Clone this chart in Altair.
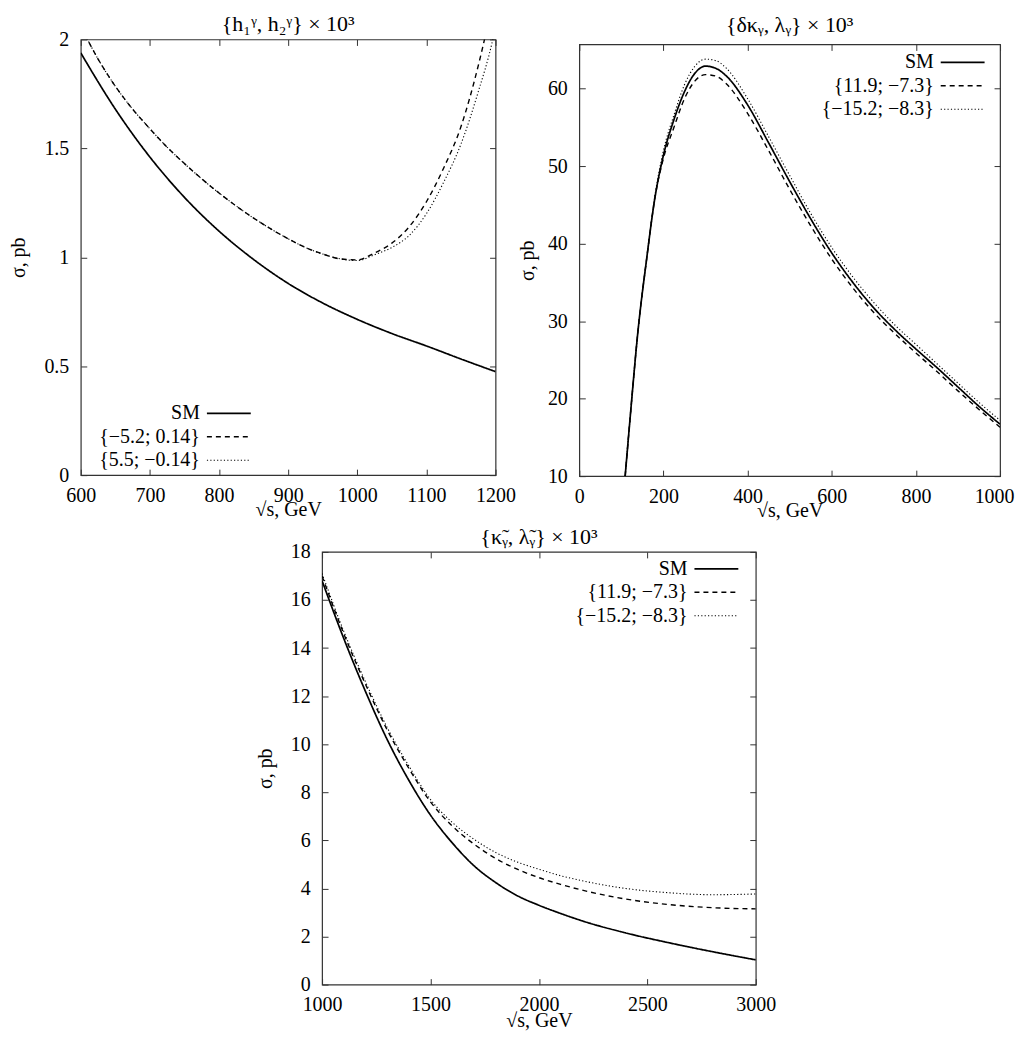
import altair as alt
import pandas as pd

FONT = "Liberation Serif"

# ---------------- Panel 1: {h1, h2} x 10^3 ----------------
p1_names = ["SM", "{−5.2; 0.14}", "{5.5; −0.14}"]
p1_sm_x = [600, 650, 700, 750, 800, 850, 900, 950, 1000, 1050, 1100, 1150, 1200]
p1_sm_y = [1.938, 1.68, 1.46, 1.275, 1.12, 0.99, 0.88, 0.79, 0.715, 0.65, 0.593, 0.533, 0.475]
p1_dash_x = [600, 625, 650, 675, 700, 725, 750, 775, 800, 825, 850, 875, 900, 925, 950, 975,
             1000, 1025, 1050, 1075, 1100, 1125, 1150, 1175, 1184, 1200]
p1_dash_y = [2.06, 1.91, 1.785, 1.68, 1.59, 1.505, 1.43, 1.36, 1.295, 1.235, 1.18, 1.13, 1.085,
             1.045, 1.015, 0.993, 0.988, 1.02, 1.065, 1.14, 1.255, 1.41, 1.60, 1.88, 2.0, 2.25]
p1_dot_x = [600, 625, 650, 675, 700, 725, 750, 775, 800, 825, 850, 875, 900, 925, 950, 975,
            1000, 1025, 1050, 1075, 1100, 1125, 1150, 1175, 1196, 1200]
p1_dot_y = [2.06, 1.91, 1.785, 1.68, 1.59, 1.505, 1.43, 1.36, 1.295, 1.235, 1.18, 1.13, 1.085,
            1.045, 1.015, 0.993, 0.985, 1.012, 1.045, 1.10, 1.20, 1.345, 1.52, 1.76, 2.0, 2.06]

# ---------------- Panel 2: {dk, lambda} x 10^3 ----------------
p2_names = ["SM", "{11.9; −7.3}", "{−15.2; −8.3}"]
p2_x = [109, 120, 140, 160, 180, 200, 225, 250, 275, 300, 325, 350, 400, 450, 500, 550,
        600, 650, 700, 750, 800, 850, 900, 950, 1000]
p2_sm_y = [10, 17, 29, 38, 46, 51.4, 56.0, 59.6, 62.0, 62.9, 62.6, 61.6, 57.9, 53.0, 48.0,
           43.2, 38.8, 35.0, 31.7, 28.9, 26.4, 24.0, 21.5, 19.0, 16.7]
p2_dash_y = [10, 17, 29, 38, 46, 51.0, 55.0, 58.7, 61.0, 61.8, 61.6, 60.6, 56.8, 52.0, 47.0,
             42.3, 38.0, 34.3, 31.1, 28.4, 25.9, 23.5, 21.0, 18.6, 16.3]
p2_dot_y = [10, 17, 29, 38, 46.3, 52.0, 56.6, 60.5, 62.9, 63.8, 63.6, 62.6, 58.7, 53.8, 48.8,
            43.9, 39.5, 35.7, 32.4, 29.5, 27.0, 24.5, 22.0, 19.5, 17.2]

# ---------------- Panel 3: {k~, lambda~} x 10^3 ----------------
p3_names = ["SM", "{11.9; −7.3}", "{−15.2; −8.3}"]
p3_x = [1000, 1100, 1200, 1300, 1400, 1500, 1600, 1700, 1800, 1900, 2000, 2100, 2200, 2400,
        2600, 2800, 3000]
p3_sm_y = [16.8, 14.4, 12.2, 10.2, 8.5, 7.05, 5.9, 4.95, 4.25, 3.7, 3.3, 2.96, 2.65, 2.15,
           1.74, 1.37, 1.03]
p3_dash_y = [17.0, 14.6, 12.5, 10.6, 9.0, 7.6, 6.6, 5.85, 5.25, 4.8, 4.45, 4.17, 3.93, 3.56,
             3.33, 3.2, 3.15]
p3_dot_y = [17.1, 14.7, 12.6, 10.7, 9.1, 7.7, 6.75, 6.05, 5.5, 5.1, 4.8, 4.53, 4.32, 4.0,
            3.82, 3.74, 3.77]


def long_df(series):
    rows = []
    for name, xs, ys in series:
        for i, (xv, yv) in enumerate(zip(xs, ys)):
            rows.append({"x": xv, "y": yv, "series": name, "i": i})
    return pd.DataFrame(rows)


df1 = long_df([(p1_names[0], p1_sm_x, p1_sm_y), (p1_names[1], p1_dash_x, p1_dash_y),
               (p1_names[2], p1_dot_x, p1_dot_y)])
df2 = long_df([(p2_names[0], p2_x, p2_sm_y), (p2_names[1], p2_x, p2_dash_y),
               (p2_names[2], p2_x, p2_dot_y)])
df3 = long_df([(p3_names[0], p3_x, p3_sm_y), (p3_names[1], p3_x, p3_dash_y),
               (p3_names[2], p3_x, p3_dot_y)])

DASHES = [[1, 0], [5, 4], [1.2, 2.2]]
WIDTHS = [1.7, 1.1, 1.1]
TICK = 6
IND = dict(strokeDash="independent", strokeWidth="independent")


def panel(df, names, xdom, ydom, xticks, yticks, title, w, h, lx, ly,
          xfmt, yfmt, title_offset, xtitle_pad, ytitle_pad, last_right=None):
    xs = alt.Scale(domain=xdom, nice=False, zero=False)
    ys = alt.Scale(domain=ydom, nice=False, zero=False)
    leg = alt.Legend(orient="none", legendX=lx, legendY=ly, title=None,
                     symbolType="M-4,0H4", symbolSize=121, labelAlign="right",
                     labelOffset=alt.ExprRef(expr="-39"), labelFont=FONT, labelFontSize=20,
                     labelColor="black", rowPadding=3.5, padding=0,
                     symbolStrokeColor="black", symbolFillColor="transparent")
    xaxis_kw = dict(values=xticks, format=xfmt, title="√s, GeV", orient="bottom",
                    offset=-TICK, tickSize=TICK, domain=False, grid=False,
                    labelPadding=10, titlePadding=xtitle_pad, labelFlush=False)
    if last_right is not None:
        test = "datum.value == %d" % xdom[1]
        xaxis_kw["labelAlign"] = {"condition": {"test": test, "value": "right"}, "value": "center"}
        xaxis_kw["labelOffset"] = {"condition": {"test": test, "value": last_right}, "value": 0}
    lines = alt.Chart(df).mark_line(clip=True, color="black", interpolate="monotone").encode(
        x=alt.X("x:Q", scale=xs, axis=alt.Axis(**xaxis_kw)),
        y=alt.Y("y:Q", scale=ys, axis=alt.Axis(
            values=yticks, format=yfmt, title="σ, pb", orient="left",
            offset=-TICK, tickSize=TICK, domain=False, grid=False,
            labelPadding=12, titlePadding=ytitle_pad)),
        strokeDash=alt.StrokeDash("series:N", scale=alt.Scale(domain=names, range=DASHES),
                                  legend=leg),
        strokeWidth=alt.StrokeWidth("series:N", scale=alt.Scale(domain=names, range=WIDTHS),
                                    legend=leg),
        order="i:Q",
        detail="series:N",
    )
    mirror = alt.Chart(df).mark_line(opacity=0, clip=True).encode(
        x=alt.X("x:Q", scale=xs, axis=alt.Axis(
            values=xticks, orient="top", labels=False, title=None,
            offset=-TICK, tickSize=TICK, domain=False, grid=False)),
        y=alt.Y("y:Q", scale=ys, axis=alt.Axis(
            values=yticks, orient="right", labels=False, title=None,
            offset=-TICK, tickSize=TICK, domain=False, grid=False)),
    )
    return alt.layer(lines, mirror).resolve_axis(x="independent", y="independent").properties(
        width=w, height=h,
        title=alt.TitleParams(title, font=FONT, fontSize=22, fontWeight="normal",
                              color="black", offset=alt.ExprRef(expr=str(title_offset)),
                              anchor="middle", frame="group"),
        view=alt.ViewBackground(stroke="#333", strokeWidth=1.2),
    )


def spacer(w, h):
    return alt.Chart(alt.Data(values=[{"a": 0}])).mark_point(opacity=0).encode(
        x=alt.value(w / 2), y=alt.value(h / 2), size=alt.value(1)
    ).properties(width=w, height=h,
                 view=alt.ViewBackground(stroke="transparent", strokeWidth=0))


def with_top_gap(ch, gap):
    return alt.vconcat(spacer(1, gap), ch, spacing=0).resolve_scale(**IND).resolve_legend(**IND)


p1 = panel(df1, p1_names, [600, 1200], [0, 2], [600, 700, 800, 900, 1000, 1100, 1200],
           [0, 0.5, 1, 1.5, 2], "{h₁ᵞ, h₂ᵞ} × 10³", 416, 437, 138.5, 365, "d", "~g",
           -7, -6, 15)
p2 = panel(df2, p2_names, [0, 1000], [10, 65.7], [0, 200, 400, 600, 800, 1000],
           [10, 20, 30, 40, 50, 60], "{δκᵧ, λᵧ} × 10³", 422, 433, 374.5, 8, "d", "d",
           7, -6, 10, last_right=14)
p3 = panel(df3, p3_names, [1000, 3000], [0, 18], [1000, 1500, 2000, 2500, 3000],
           [0, 2, 4, 6, 8, 10, 12, 14, 16, 18], "{κ̃ᵧ, λ̃ᵧ} × 10³", 435, 434, 385.5, 7,
           "d", "d", -7, -4, 15)

top = alt.hconcat(with_top_gap(p1, 3), with_top_gap(p2, 3), spacing=0).resolve_scale(
    **IND).resolve_legend(**IND)
bottom = alt.hconcat(spacer(174, 1), p3, spacing=0).resolve_scale(**IND).resolve_legend(**IND)
chart = alt.vconcat(top, bottom, spacing=4).resolve_scale(**IND).resolve_legend(**IND).properties(
    padding={"left": 0, "top": 0, "right": 0, "bottom": 0},
    background="white",
).configure_axis(
    labelFont=FONT, labelFontSize=20, labelColor="black",
    titleFont=FONT, titleFontSize=20, titleFontWeight="normal", titleColor="black",
    tickColor="#333", tickWidth=1,
)

chart.save("out.html", embed_options={"renderer": "svg", "actions": False})
